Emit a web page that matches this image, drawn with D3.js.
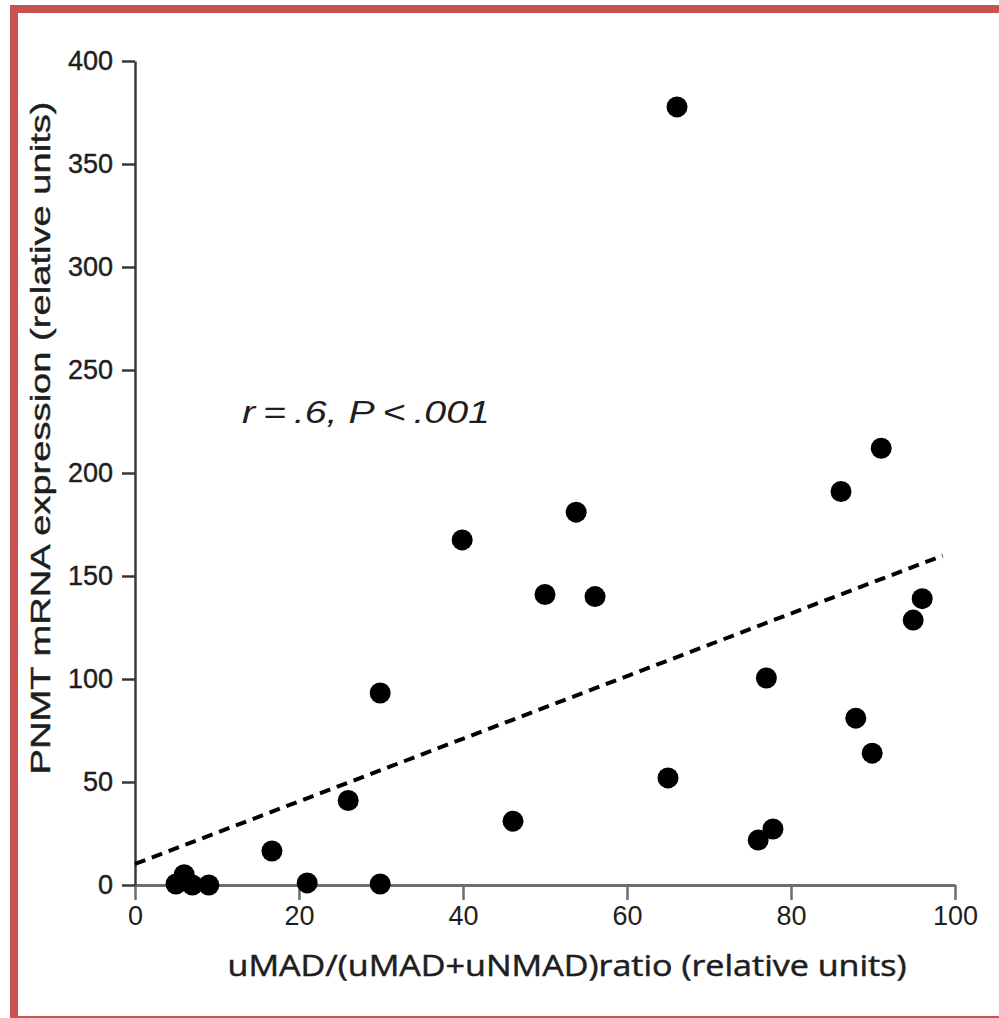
<!DOCTYPE html>
<html>
<head>
<meta charset="utf-8">
<script src="https://cdn.jsdelivr.net/npm/d3@7"></script>
<style>
  body { margin: 0; background: #fff; }
  svg { display: block; }
</style>
</head>
<body>
<div id="chart"></div>
<script>
// values
const ratio = [66.1, 91, 86.1, 53.8, 39.9, 50, 56.1, 96, 94.9, 77, 29.9, 87.9, 89.9, 65, 26, 46.1, 77.8, 76, 16.7, 21, 29.9, 5, 6, 7, 9]
const pnmt = [377.7, 212, 191, 181, 167.5, 141, 140, 139, 128.6, 100.5, 93.2, 81, 64, 52, 41, 31, 27.2, 21.8, 16.5, 1, 0.5, 0.5, 5, 0, 0]
const xTicks = [0, 20, 40, 60, 80, 100]
const yTicks = [0, 50, 100, 150, 200, 250, 300, 350, 400]
const fitIntercept = 10.2
const fitSlope = 1.52
const fitRange = [0, 98.5]

const points = ratio.map((r, i) => ({ x: r, y: pnmt[i] }))

let margin = { top: 61, left: 135, right: 44, bottom: 133 }
let width = 999 - margin.left - margin.right
let height = 1018 - margin.top - margin.bottom

const root = d3
  .select('#chart')
  .append('svg')
  .attr('width', 999)
  .attr('height', 1018)

// red frame round the picture
root.append('rect').attr('x', 10).attr('y', 5).attr('width', 989).attr('height', 8).attr('fill', '#c75452')
root.append('rect').attr('x', 10).attr('y', 5).attr('width', 8).attr('height', 1013).attr('fill', '#c75452')
root.append('rect').attr('x', 10).attr('y', 1016).attr('width', 989).attr('height', 2).attr('fill', '#c75452')

const svg = root
  .append('g')
  .attr('transform', 'translate(' + margin.left + ',' + margin.top + ')')

var xPositionScale = d3.scaleLinear().domain([0, 100]).range([0, width])
var yPositionScale = d3.scaleLinear().domain([0, 400]).range([height, 0])

// axes
const xAxis = d3.axisBottom(xPositionScale).tickValues(xTicks).tickSize(15).tickSizeOuter(0).tickPadding(5)
const yAxis = d3.axisLeft(yPositionScale).tickValues(yTicks).tickSize(13).tickSizeOuter(0).tickPadding(9)

const xg = svg.append('g').attr('transform', 'translate(0,' + height + ')').call(xAxis)
xg.select('.domain').attr('stroke', '#6e6e6e').attr('stroke-width', 3)
xg.selectAll('.tick line').attr('stroke', '#6e6e6e').attr('stroke-width', 2.5)
xg.selectAll('.tick text')
  .attr('font-family', 'Liberation Sans, Arial, sans-serif')
  .attr('font-size', 27)
  .attr('fill', '#1e1e1e')
  .attr('dy', '0.75em')

const yg = svg.append('g').call(yAxis)
yg.select('.domain').attr('stroke', '#383838').attr('stroke-width', 2.5)
yg.selectAll('.tick line').attr('stroke', '#383838').attr('stroke-width', 2.5)
yg.selectAll('.tick text')
  .attr('font-family', 'Liberation Sans, Arial, sans-serif')
  .attr('font-size', 27)
  .attr('fill', '#1e1e1e')
  .attr('stroke', '#1e1e1e')
  .attr('stroke-width', 0.4)
  .attr('dy', '0.3em')

// regression line
svg
  .append('line')
  .attr('x1', xPositionScale(fitRange[0]))
  .attr('y1', yPositionScale(fitIntercept + fitSlope * fitRange[0]))
  .attr('x2', xPositionScale(fitRange[1]))
  .attr('y2', yPositionScale(fitIntercept + fitSlope * fitRange[1]))
  .attr('stroke', '#000')
  .attr('stroke-width', 4)
  .attr('stroke-dasharray', '11,7')

// dots
svg
  .selectAll('.dot')
  .data(points)
  .enter()
  .append('circle')
  .attr('class', 'dot')
  .attr('cx', d => xPositionScale(d.x))
  .attr('cy', d => yPositionScale(d.y))
  .attr('r', 10.5)
  .attr('fill', '#000')

// labels
root
  .append('text')
  .attr('x', 567)
  .attr('y', 976)
  .attr('text-anchor', 'middle')
  .attr('font-family', 'Open Sans, sans-serif')
  .attr('font-size', 29)
  .attr('fill', '#1e1e1e')
  .attr('stroke', '#1e1e1e')
  .attr('stroke-width', 0.5)
  .attr('textLength', 679)
  .attr('lengthAdjust', 'spacingAndGlyphs')
  .text('uMAD/(uMAD+uNMAD)ratio (relative units)')

root
  .append('text')
  .attr('transform', 'translate(50,438) rotate(-90)')
  .attr('text-anchor', 'middle')
  .attr('font-family', 'Liberation Sans, Arial, sans-serif')
  .attr('font-size', 28)
  .attr('fill', '#1e1e1e')
  .attr('stroke', '#1e1e1e')
  .attr('stroke-width', 0.4)
  .attr('textLength', 673)
  .attr('lengthAdjust', 'spacingAndGlyphs')
  .text('PNMT mRNA expression (relative units)')

root
  .append('text')
  .attr('x', 242)
  .attr('y', 423)
  .attr('font-family', 'Liberation Sans, Arial, sans-serif')
  .attr('font-style', 'italic')
  .attr('font-size', 31)
  .attr('fill', '#1e1e1e')
  .attr('textLength', 248)
  .attr('lengthAdjust', 'spacingAndGlyphs')
  .text('r\u2009=\u2009.6, P\u2009<\u2009.001')
</script>
</body>
</html>
